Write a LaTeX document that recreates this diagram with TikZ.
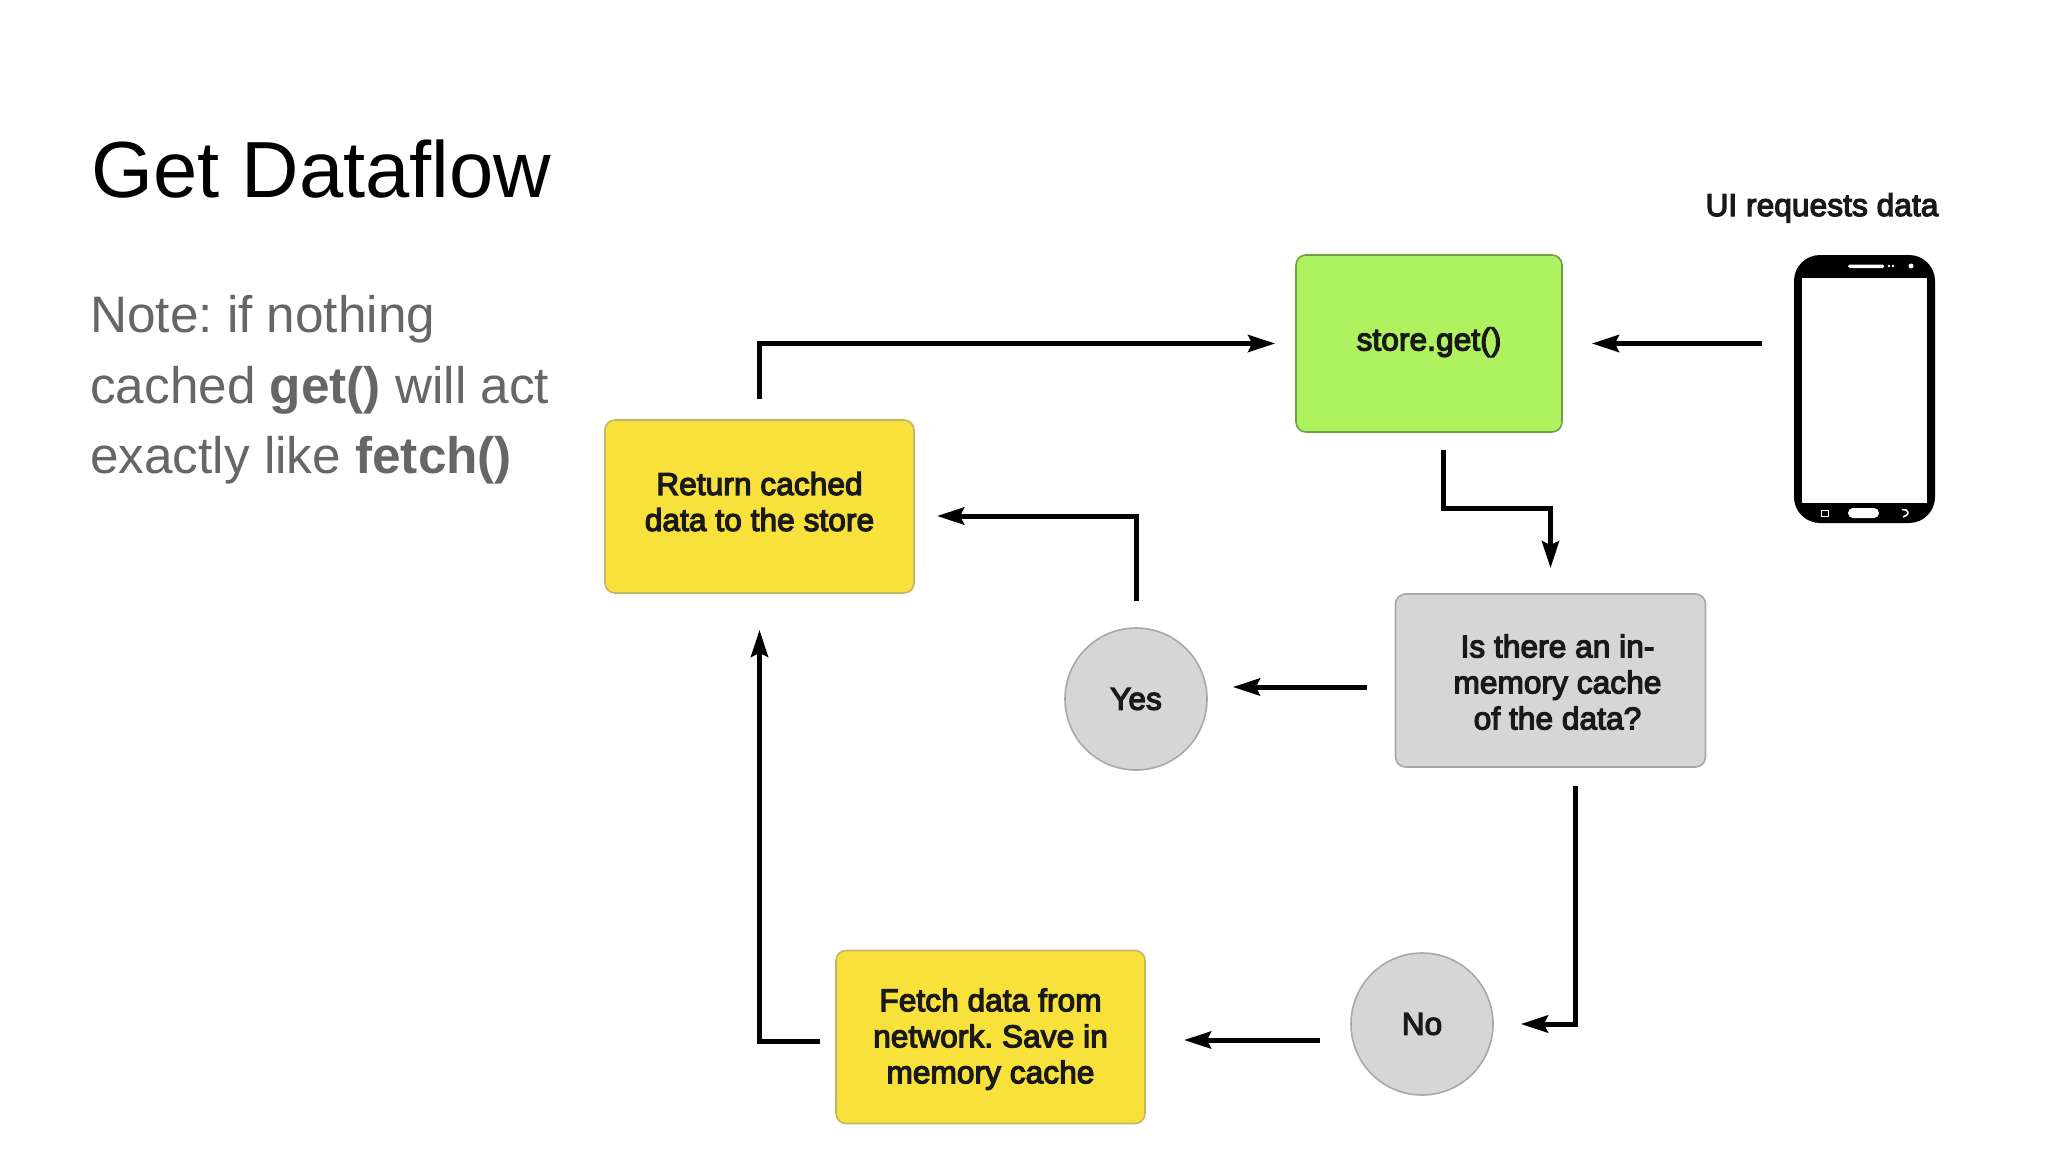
\documentclass[tikz,border=0pt]{standalone}
\usepackage{fontspec}
\setmainfont{Liberation Sans}
\newfontfamily\boxfont[FakeBold=4,LetterSpace=0.4]{Liberation Sans}
\usetikzlibrary{calc,arrows.meta}
\definecolor{notegray}{RGB}{102,102,102}
\definecolor{storefill}{RGB}{174,242,96}
\definecolor{storeline}{RGB}{112,160,70}
\definecolor{cachefill}{RGB}{249,225,59}
\definecolor{cacheline}{RGB}{196,182,104}
\definecolor{askfill}{RGB}{214,214,214}
\definecolor{askline}{RGB}{168,168,168}
\tikzset{
    lab/.style={
        font=\boxfont\fontsize{31.5}{36}\selectfont, text=black!90, align=center
    }
}

\begin{document}
\frenchspacing
\begin{tikzpicture}[x=1pt,y=-1pt, line cap=butt, line join=miter]

\useasboundingbox (0,0) rectangle (2048,1152);

\tikzset{
  box/.style={lab, rectangle, rounded corners=10pt, line width=1.6pt, inner sep=0pt},
  storebox/.style={box, draw=storeline, fill=storefill, minimum width=266pt, minimum height=177pt},
  cachebox/.style={box, draw=cacheline, fill=cachefill, minimum width=309pt, minimum height=173pt},
  askbox/.style={box, draw=askline, fill=askfill, minimum width=310pt, minimum height=173pt},
  answer/.style={lab, circle, draw=askline, fill=askfill, line width=1.6pt, minimum size=142pt, inner sep=0pt},
  flow/.style={draw=black, line width=5pt, -{Stealth[length=27pt,width=17pt,inset=4pt]}},
}

% title and note
\node[anchor=base west, inner sep=0pt, font=\fontsize{79.6}{90}\selectfont] (title) at (91,197) {Get Dataflow};
\node[anchor=west, inner sep=0pt, align=left, text=notegray, font=\fontsize{51.3}{70.5}\selectfont] (note) at (90,390)
  {Note: if nothing\\cached \textbf{get()} will act\\exactly like \textbf{fetch()}};

% boxes
\node[storebox, text depth=9pt] (store) at (1429,343.5) {store.get()};
\node[cachebox, text depth=10pt] (return) at (759.5,506.5) {Return cached\\data to the store};
\node[askbox, text height=98pt] (ask) at (1550.5,680.5) {\hspace*{14pt}Is there an in-\\\hspace*{14pt}memory cache\\\hspace*{14pt}of the data?};
\node[answer] (yes) at (1136,699) {Yes};
\node[answer] (no) at (1422,1024) {No};
\node[cachebox, text height=99pt] (fetch) at (990.5,1037) {Fetch data from\\network. Save in\\memory cache};

% phone
\node[lab, anchor=base] (ui) at (1822,216) {UI requests data};
\node[rectangle, fill=black, rounded corners=26pt, minimum width=141pt, minimum height=268pt, inner sep=0pt] (phone) at (1864.5,389) {};
\fill[white] (1802,278) rectangle (1927,503);
\fill[white, rounded corners=1.5pt] (1848,264.5) rectangle (1884,268);
\fill[white] (1889,266) circle (1.3pt) (1893,266) circle (1.3pt) (1911,266) circle (2.5pt);
\fill[white, rounded corners=5pt] (1848,508) rectangle (1879,518);
\draw[white, line width=1pt] (1821,510) rectangle (1828,516);
\draw[white, line width=1.6pt] (1902,509.5) -- (1906,510) .. controls (1909,512) and (1909,515) .. (1903,517);

% connectors
\coordinate (storeout) at (1443,432);
\coordinate (storebend) at (1443,508);
\coordinate (returnin) at (914,516);
\coordinate (askout) at (1395,687);
\coordinate (askdown) at (1575,767);
\coordinate (noout) at (1352,1040);
\coordinate (fetchin) at (1145,1040);
\coordinate (fetchout) at (836,1041);

\draw[flow, shorten <=20pt, shorten >=20pt] (return.north) |- (store.west);
\draw[flow, shorten <=32pt, shorten >=29pt] (phone.west |- store.east) -- (store.east);
\draw[flow, shorten <=18pt, shorten >=25pt] (storeout) -- (storebend) -| (ask.north);
\draw[flow, shorten <=26pt, shorten >=23pt] (yes.north) |- (returnin);
\draw[flow, shorten <=28pt, shorten >=25pt] (askout) -- (yes.east |- askout);
\draw[flow, shorten <=19pt, shorten >=27pt] (askdown) |- (no.east);
\draw[flow, shorten <=32pt, shorten >=39pt] (noout) -- (fetchin);
\draw[flow, shorten <=16pt, shorten >=36pt] (fetchout) -| (return.south);

\end{tikzpicture}
\end{document}
